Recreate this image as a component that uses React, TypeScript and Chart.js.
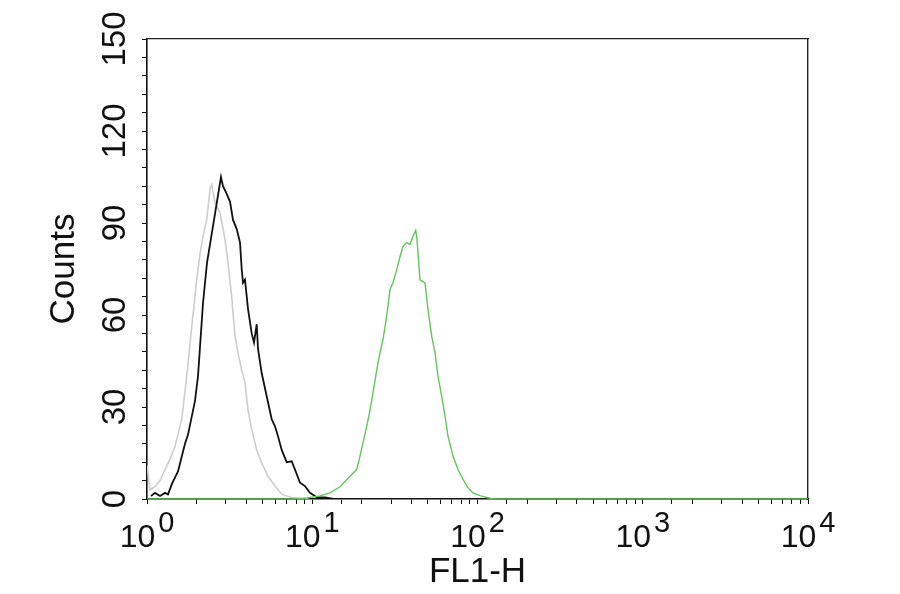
import React, { useEffect, useRef } from 'react';
import { Chart, registerables } from 'chart.js';

Chart.register(...registerables);

const FONT = "'Liberation Sans', Arial, Helvetica, sans-serif";

// Isotype control (light gray)
const isotypeX = [1.0, 1.043, 1.118, 1.199, 1.285, 1.378, 1.477, 1.622, 1.739, 1.864, 1.999, 2.093, 2.183, 2.298, 2.406, 2.464, 2.579, 2.765, 2.965, 3.091, 3.255, 3.408, 3.553, 3.742, 3.917, 4.085, 4.302, 4.612, 4.945, 5.398, 5.951, 6.533, 7.508, 8.432, 9.5];
const isotypeY = [11, 3, 4, 6, 9.6, 13, 17, 26, 40, 56, 71.5, 80, 85.7, 91, 101, 102.5, 96.6, 93.4, 84.6, 77, 66, 53, 47.7, 42, 38, 29, 22.7, 16, 11.8, 7.4, 4.2, 1.5, 0.5, 0.3, 0];

// Unstained / negative control (black)
const controlX = [1.057, 1.118, 1.199, 1.285, 1.34, 1.417, 1.54, 1.698, 1.771, 1.952, 2.035, 2.183, 2.307, 2.406, 2.579, 2.727, 2.804, 2.884, 3.007, 3.179, 3.315, 3.491, 3.655, 3.742, 3.81, 3.917, 4.085, 4.302, 4.442, 4.612, 4.696, 4.945, 5.302, 5.683, 5.951, 6.205, 6.533, 7.005, 7.508, 7.863, 8.432, 9.04, 9.692, 10.69, 11.95, 13.5];
const controlY = [1, 2, 1, 2, 1.5, 5, 9, 18, 21, 32, 40, 64, 77, 83, 93, 101, 105, 102, 100, 97, 91, 88, 83.6, 75, 70.5, 71.5, 62, 54, 51, 57, 49, 41, 33.5, 26, 23.7, 20.5, 16, 12, 12.3, 9.6, 5.3, 4.2, 2, 0.5, 0.5, 0];

// Stained sample (green)
const stainedX = [1, 8.43, 11.14, 12.81, 14.72, 16.92, 18.58, 19.45, 20.29, 21.36, 22.37, 23.32, 24.55, 25.7, 26.8, 28.22, 29.54, 30.81, 32.44, 33.96, 35.42, 37.28, 39.04, 40.72, 42.27, 43.05, 44.88, 48.12, 50.17, 52.84, 55.32, 57.68, 60.74, 63.59, 66.31, 71.08, 76.21, 81.72, 87.59, 93.93, 103.5, 113.7, 125, 10000];
const stainedY = [0, 0, 1, 2, 4, 7.4, 9.6, 14, 18.4, 23.7, 29, 34.7, 42, 47.7, 52, 59.6, 68.3, 70.5, 74.8, 79, 82.4, 83.6, 83, 85.7, 87.6, 84.6, 71.5, 70.5, 61.8, 53, 47.7, 40, 33.5, 27, 20.5, 14, 9.6, 6.4, 3.7, 2, 1.1, 0.5, 0, 0];

const xTickValues = [1, 10, 100, 1000, 10000];
const xTickBase = '10';
const xTickExponents = ['0', '1', '2', '3', '4'];
const yTickLabels = [0, 30, 60, 90, 120, 150];
const xTitle = 'FL1-H';
const yTitle = 'Counts';

const toPoints = (xs: number[], ys: number[]) => xs.map((x, i) => ({ x, y: ys[i] }));

const superscriptTicks = {
  id: 'superscriptTicks',
  afterDraw(chart: any) {
    const scale = chart.scales.x;
    const ctx = chart.ctx;
    ctx.save();
    ctx.fillStyle = '#111';
    ctx.textBaseline = 'alphabetic';
    ctx.textAlign = 'left';
    const baseFont = `32px ${FONT}`;
    const expFont = `29px ${FONT}`;
    xTickValues.forEach((v, i) => {
      const px = scale.getPixelForValue(v);
      ctx.font = baseFont;
      const wb = ctx.measureText(xTickBase).width;
      ctx.font = expFont;
      const we = ctx.measureText(xTickExponents[i]).width;
      const gap = 3;
      const start = px - (wb + gap + we) / 2;
      const baseY = scale.top + 48;
      ctx.font = baseFont;
      ctx.fillText(xTickBase, start, baseY);
      ctx.font = expFont;
      ctx.fillText(xTickExponents[i], start + wb + gap, baseY - 15);
    });
    ctx.restore();
  },
};

export default function App() {
  const ref = useRef<HTMLCanvasElement>(null);

  useEffect(() => {
    const chart = new Chart(ref.current as HTMLCanvasElement, {
      type: 'scatter',
      data: {
        datasets: [
          {
            label: 'Stained',
            data: toPoints(stainedX, stainedY),
            showLine: true,
            borderColor: 'rgb(96,200,86)',
            borderWidth: 1.4,
            pointRadius: 0,
            tension: 0,
          },
          {
            label: 'Control',
            data: toPoints(controlX, controlY),
            showLine: true,
            borderColor: '#111',
            borderWidth: 1.8,
            pointRadius: 0,
            tension: 0,
          },
          {
            label: 'Isotype',
            data: toPoints(isotypeX, isotypeY),
            showLine: true,
            borderColor: 'rgb(205,205,205)',
            borderWidth: 1.6,
            pointRadius: 0,
            tension: 0,
          },
        ],
      },
      options: {
        responsive: false,
        animation: false,
        layout: { padding: 0 },
        plugins: { legend: { display: false }, tooltip: { enabled: false } },
        scales: {
          x: {
            type: 'logarithmic',
            position: 'bottom',
            min: 1,
            max: 10000,
            afterFit: (s: any) => { s.height = 95; },
            ticks: { display: false, autoSkip: false },
            grid: { display: true, drawOnChartArea: false, drawTicks: true, tickLength: 5, color: '#111', lineWidth: 1 },
            border: { display: true, color: '#111', width: 1.6 },
            title: { display: true, text: xTitle, color: '#111', font: { family: FONT, size: 35 }, padding: { top: 0, bottom: 1 } },
          },
          y: {
            type: 'linear',
            position: 'left',
            min: 0,
            max: 150,
            afterFit: (s: any) => { s.width = 147; },
            ticks: {
              stepSize: 6,
              autoSkip: false,
              minRotation: 90,
              maxRotation: 90,
              crossAlign: 'center',
              padding: -1,
              color: '#111',
              font: { family: FONT, size: 33 },
              callback: (v: any) => (yTickLabels.includes(Number(v)) ? String(v) : ''),
            },
            grid: { display: true, drawOnChartArea: false, drawTicks: true, tickLength: 5, color: '#111', lineWidth: 1 },
            border: { display: true, color: '#111', width: 1.6 },
            title: { display: true, text: yTitle, color: '#111', font: { family: FONT, size: 35 }, padding: { top: 43, bottom: 0 } },
          },
          x2: {
            type: 'linear',
            axis: 'x',
            position: 'top',
            min: 0,
            max: 1,
            afterFit: (s: any) => { s.height = 39; },
            ticks: { display: false },
            grid: { display: false, drawTicks: false },
            border: { display: true, color: '#222', width: 1.2 },
          },
          y2: {
            type: 'linear',
            axis: 'y',
            position: 'right',
            min: 0,
            max: 1,
            afterFit: (s: any) => { s.width = 92; },
            ticks: { display: false },
            grid: { display: false, drawTicks: false },
            border: { display: true, color: '#222', width: 1.4 },
          },
        },
      } as any,
      plugins: [superscriptTicks],
    });
    return () => chart.destroy();
  }, []);

  return (
    <div style={{ position: 'fixed', left: 0, top: 0, width: 900, height: 594, background: '#fff' }}>
      <canvas ref={ref} width={900} height={594} style={{ display: 'block' }} />
    </div>
  );
}
